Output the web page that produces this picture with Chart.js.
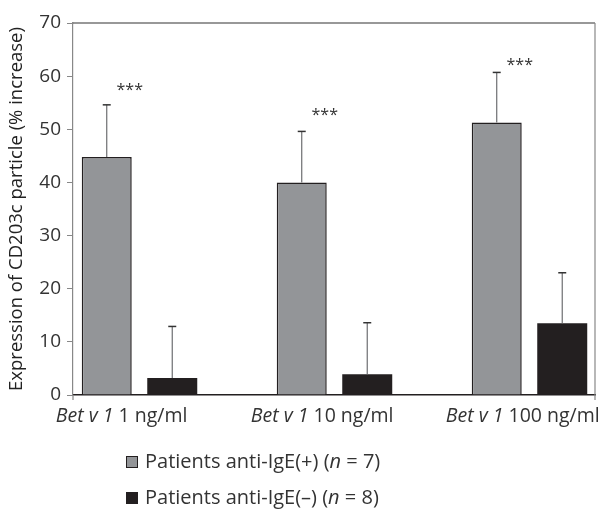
<!DOCTYPE html>
<html>
<head>
<meta charset="utf-8">
<script src="https://cdn.jsdelivr.net/npm/chart.js@4"></script>
<style>
  html,body{margin:0;padding:0;background:#fff;}
  #wrap{width:605px;height:510px;position:relative;}
</style>
</head>
<body>
<div id="wrap"><canvas id="cv"></canvas></div>
<script>
/* ===== data ===== */
const allergen = 'Bet v 1';
const doses = ['1 ng/ml', '10 ng/ml', '100 ng/ml'];
const yMin = 0, yMax = 70, yStep = 10;
const seriesNames = ['Patients anti-IgE(+)', 'Patients anti-IgE(–)'];
const seriesN = [7, 8];
const posMean = [44.8, 40.0, 51.3];
const posSD   = [9.8, 9.6, 9.4];
const negMean = [3.2, 3.9, 13.5];
const negSD   = [9.7, 9.7, 9.5];
const starText = '***';
const starLevel = [58.0, 53.3, 62.7];   // where the *** sits (% increase)

const FONT = '"Open Sans", "Noto Sans", sans-serif';
const GRAY = '#939598', DARK = '#231f20';

const $ = s => document.querySelector(s);
const pts = arr => arr.map((v,i)=>({x:i, y:v}));

/* error bars + frame + stars + labels + legend */
const extras = {
  id:'extras',
  afterDatasetsDraw(chart){
    const {ctx, chartArea:a, scales:{x,y}} = chart;
    const sds = [posSD, negSD];
    ctx.save();
    // error bars (upper only)
    chart.data.datasets.forEach((ds,di)=>{
      chart.getDatasetMeta(di).data.forEach((bar,i)=>{
        const top = y.getPixelForValue(ds.data[i].y + sds[di][i]);
        ctx.strokeStyle = '#6d6e71'; ctx.lineWidth = 1.2;
        ctx.beginPath(); ctx.moveTo(bar.x, bar.y); ctx.lineTo(bar.x, top); ctx.stroke();
        ctx.strokeStyle = '#333'; ctx.lineWidth = 1.5;
        ctx.beginPath(); ctx.moveTo(bar.x-4, top); ctx.lineTo(bar.x+4, top); ctx.stroke();
      });
    });
    // frame: top + right
    ctx.strokeStyle = '#333'; ctx.lineWidth = 1.2;
    ctx.beginPath(); ctx.moveTo(a.left, a.top); ctx.lineTo(a.right, a.top); ctx.stroke();
    ctx.strokeStyle = '#888';
    ctx.beginPath(); ctx.moveTo(a.right, a.top); ctx.lineTo(a.right, a.bottom+5); ctx.stroke();
    ctx.beginPath(); ctx.moveTo(a.left, a.bottom); ctx.lineTo(a.left, a.bottom+5); ctx.stroke();
    // stars
    const m0 = chart.getDatasetMeta(0).data;
    ctx.fillStyle = '#333'; ctx.font = '16px '+FONT;
    ctx.textAlign = 'center'; ctx.textBaseline = 'middle';
    starLevel.forEach((v,i)=>{
      ctx.fillText(starText, m0[i].x + 23, y.getPixelForValue(v) + 4);
    });
    // x labels: italic allergen + dose
    ctx.textAlign = 'left'; ctx.textBaseline = 'middle'; ctx.fillStyle = '#333';
    doses.forEach((d,i)=>{
      const left = m0[i].x - m0[i].width/2 - 26;
      ctx.font = 'italic 19.5px '+FONT;
      const part1 = allergen + ' ';
      ctx.fillText(part1, left, a.bottom + 21);
      const w = ctx.measureText(part1).width;
      ctx.font = '19.5px '+FONT;
      ctx.fillText(d, left + w, a.bottom + 21);
    });
    // legend
    chart.data.datasets.forEach((ds,di)=>{
      const cy = 462 + di*36, bx = 126;
      ctx.fillStyle = ds.backgroundColor; ctx.strokeStyle = DARK; ctx.lineWidth = 1;
      ctx.fillRect(bx, cy-6, 12, 12); ctx.strokeRect(bx+0.5, cy-5.5, 11, 11);
      let tx = bx + 19;
      ctx.fillStyle = '#333';
      const parts = [[seriesNames[di]+' (', ''], ['n', 'italic '], [' = '+seriesN[di]+')', '']];
      parts.forEach(([t,st])=>{
        ctx.font = st+'20px '+FONT;
        ctx.fillText(t, tx, cy);
        tx += ctx.measureText(t).width;
      });
    });
    ctx.restore();
  }
};

new Chart($('#cv'), {
  type:'bar',
  data:{
    datasets:[
      {label:seriesNames[0], data:pts(posMean), backgroundColor:GRAY, borderColor:DARK, borderWidth:1.5, borderSkipped:'bottom'},
      {label:seriesNames[1], data:pts(negMean), backgroundColor:DARK, borderColor:DARK, borderWidth:0}
    ]
  },
  options:{
    responsive:true, maintainAspectRatio:false, animation:false,
    categoryPercentage:0.672, barPercentage:0.763,
    layout:{padding:{left:0, right:10, top:23, bottom:0}},
    plugins:{legend:{display:false}, tooltip:{enabled:false}},
    scales:{
      x:{
        type:'linear', min:-0.341, max:2.336, offset:false,
        grid:{display:false, drawTicks:false},
        border:{display:true, color:DARK, width:1.5},
        ticks:{display:false},
        afterBuildTicks:s=>{ s.ticks = doses.map((_,i)=>({value:i})); },
        afterFit:s=>{ s.height = 115; }
      },
      y:{
        min:yMin, max:yMax,
        grid:{drawOnChartArea:false, drawTicks:true, tickLength:6, color:'#888'},
        border:{display:true, color:'#888', width:1.2},
        ticks:{stepSize:yStep, padding:6, color:'#333', font:{family:FONT, size:19}},
        title:{display:true, text:'Expression of CD203c particle (% increase)', color:'#222',
               font:{family:FONT, size:18.5}, padding:{top:6, bottom:0}},
        afterFit:s=>{ s.width = 73; }
      }
    }
  },
  plugins:[extras]
});
</script>
</body>
</html>
